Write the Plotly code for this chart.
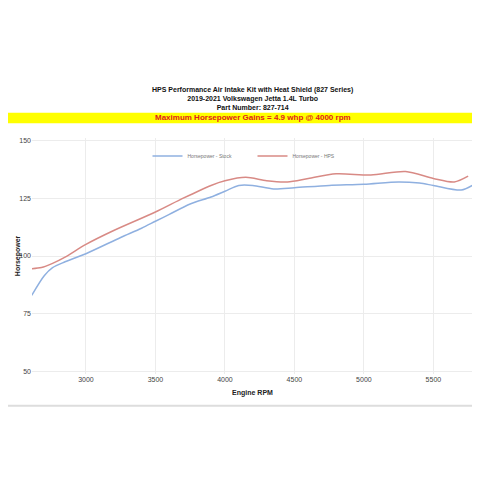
import plotly.graph_objects as go

stock_rpm = [2610, 2700, 2760, 2850, 3000, 3250, 3400, 3500, 3600, 3750, 3900, 4000, 4100, 4200, 4350, 4500, 4750, 5000, 5250, 5400, 5500, 5700, 5780]
stock_hp = [83, 91.5, 95, 97.5, 101, 108, 112, 115, 118, 122.5, 125.5, 128, 130.5, 130.5, 129, 129.5, 130.5, 131, 132, 131.5, 130.5, 128.5, 130.5]
hps_rpm = [2610, 2680, 2760, 2850, 3000, 3200, 3500, 3700, 3900, 4000, 4150, 4300, 4450, 4600, 4800, 5050, 5300, 5500, 5650, 5750]
hps_hp = [94.5, 95, 96.8, 99.5, 105, 111, 119, 125, 130.5, 132.5, 134, 132.5, 132, 133.5, 135.5, 135, 136.5, 133.5, 132, 134.5]

fig = go.Figure()
fig.add_trace(go.Scatter(x=stock_rpm, y=stock_hp, mode="lines", name="Horsepower - Stock",
                         line=dict(color="#8fb0e0", width=1.5, shape="spline", smoothing=0.8)))
fig.add_trace(go.Scatter(x=hps_rpm, y=hps_hp, mode="lines", name="Horsepower - HPS",
                         line=dict(color="#d88a85", width=1.5, shape="spline", smoothing=0.8)))

F = "Liberation Sans, Arial"
W = 441.0
fig.update_layout(
    width=480, height=480, paper_bgcolor="white", plot_bgcolor="white",
    margin=dict(l=24, r=15, t=130, b=114, autoexpand=False),
    font=dict(family=F, size=7, color="#444"),
    showlegend=True,
    legend=dict(orientation="h", x=0.5, xanchor="center", y=0.985, yanchor="top",
                font=dict(size=5, color="#777"), bgcolor="rgba(0,0,0,0)",
                itemwidth=30, entrywidth=60),
    xaxis=dict(range=[2612, 5785], tickvals=[3000, 3500, 4000, 4500, 5000, 5500],
               showgrid=True, gridcolor="#ececec", zeroline=False, ticks="", automargin=False,
               tickfont=dict(size=7, color="#444"),
               title=dict(text="<b>Engine RPM</b>", font=dict(size=7, color="#222"), standoff=8)),
    yaxis=dict(range=[49, 151], tickvals=[50, 75, 100, 125, 150],
               showgrid=True, gridcolor="#ececec", zeroline=False, ticks="", automargin=False,
               tickfont=dict(size=7, color="#444")),
    shapes=[
        dict(type="rect", xref="paper", yref="paper", x0=-24/W, x1=1+15/W, y0=1.063, y1=1.107,
             fillcolor="#ffff00", line=dict(width=0), layer="below"),
        dict(type="line", xref="paper", yref="paper", x0=-24/W, x1=1+15/W, y0=-0.135, y1=-0.135,
             line=dict(color="#dddddd", width=2)),
    ],
    annotations=[
        dict(text="<b>HPS Performance Air Intake Kit with Heat Shield (827 Series)<br>2019-2021 Volkswagen Jetta 1.4L Turbo<br>Part Number: 827-714</b>",
             xref="paper", yref="paper", x=0.5, y=1.105, xanchor="center", yanchor="bottom",
             showarrow=False, font=dict(size=7, color="#111"), align="center"),
        dict(text="<b>Maximum Horsepower Gains = 4.9 whp @ 4000 rpm</b>",
             xref="paper", yref="paper", x=0.5, y=1.085, xanchor="center", yanchor="middle",
             showarrow=False, font=dict(size=8, color="#e0201b")),
        dict(text="<b>Horsepower</b>", xref="paper", yref="paper", x=-0.045, y=0.5,
             textangle=-90, showarrow=False, font=dict(size=7, color="#222")),
    ],
)
fig.write_html("out.html")
